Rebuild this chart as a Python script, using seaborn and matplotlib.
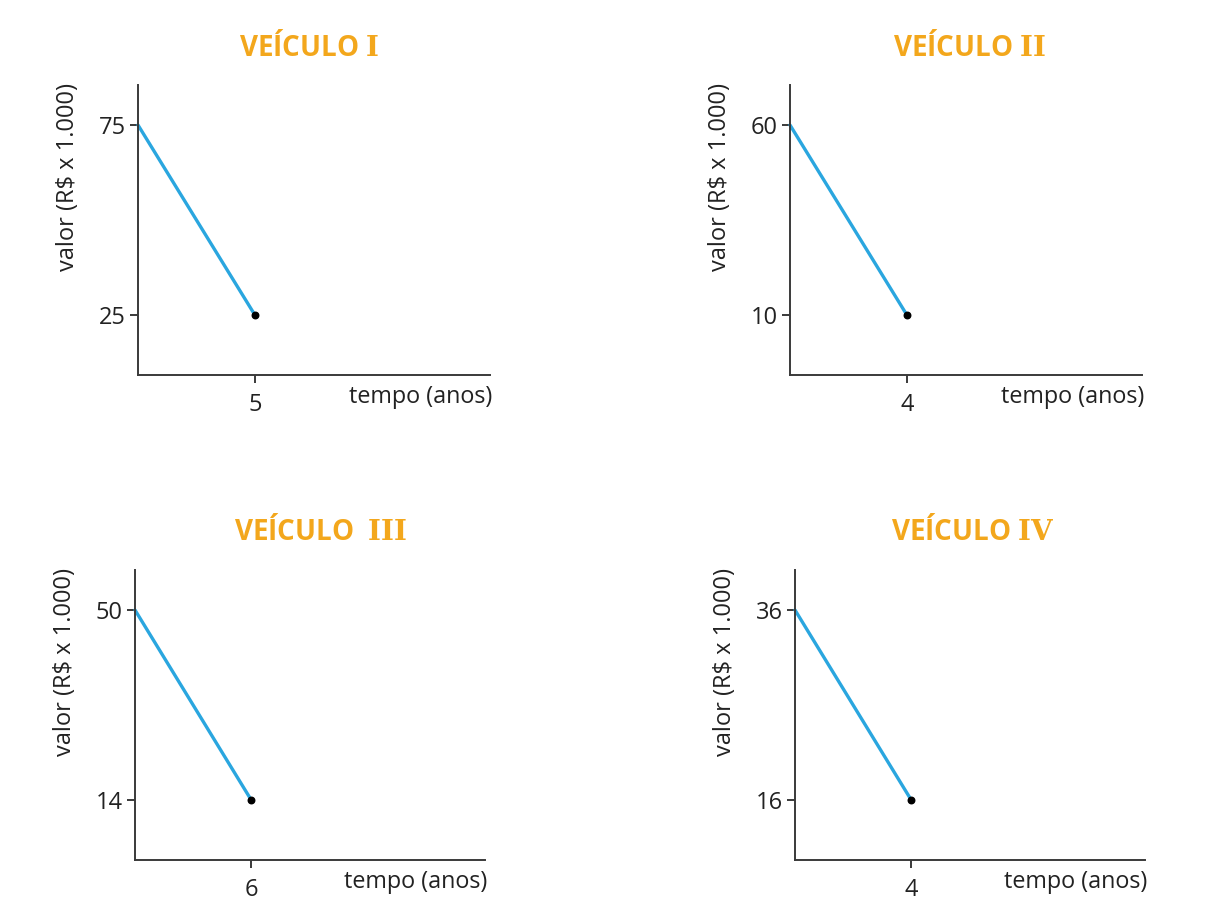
import matplotlib
matplotlib.use("Agg")
import matplotlib.pyplot as plt
import seaborn as sns
import pandas as pd

sns.set_theme(style="ticks")
plt.rcParams['font.family'] = ['Open Sans', 'DejaVu Sans']
plt.rcParams['mathtext.fontset'] = 'dejavuserif'

# Data
titles = ["VEÍCULO", "VEÍCULO", "VEÍCULO ", "VEÍCULO"]
numerals = ["I", "II", "III", "IV"]
start_values = [75, 60, 50, 36]
end_values = [25, 10, 14, 16]
end_years = [5, 4, 6, 4]

LINE_COLOR = "#2AA6DF"
TITLE_COLOR = "#F3A71C"
AXIS_COLOR = "#3a3a3a"

fig = plt.figure(figsize=(12.2, 9.22), dpi=100)
W, H = 1220, 922
# axes boxes in pixels: left, top, right, bottom
boxes = [(138, 85, 490, 375), (790, 85, 1142, 375),
         (135, 570, 485, 860), (795, 570, 1145, 860)]
title_x = [309, 969, 321, 973]

for i in range(4):
    l, t, r, b = boxes[i]
    ax = fig.add_axes([l / W, 1 - b / H, (r - l) / W, (b - t) / H])
    df = pd.DataFrame({"tempo": [0, end_years[i]],
                       "valor": [start_values[i], end_values[i]]})
    sns.lineplot(data=df, x="tempo", y="valor", ax=ax, color=LINE_COLOR,
                 linewidth=2.4, clip_on=False)
    ax.scatter([end_years[i]], [end_values[i]], color="black", s=22, zorder=5,
               clip_on=False)
    # y limits: top value at 0.862, bottom value at 0.207 of axis height
    v_lo, v_hi = end_values[i], start_values[i]
    rng = (v_hi - v_lo) / (0.862 - 0.207)
    lo = v_lo - 0.207 * rng
    ax.set_ylim(lo, lo + rng)
    ax.set_xlim(0, end_years[i] / 0.332)
    ax.set_xticks([end_years[i]])
    ax.set_yticks([v_lo, v_hi])
    ax.set_xticklabels([str(end_years[i])])
    ax.set_yticklabels([str(v_lo), str(v_hi)])
    ax.tick_params(axis="both", labelsize=17, length=6, width=1.4,
                   color=AXIS_COLOR, labelcolor="#222222", pad=3)
    ax.tick_params(axis="x", pad=7)
    for s in ["top", "right"]:
        ax.spines[s].set_visible(False)
    for s in ["left", "bottom"]:
        ax.spines[s].set_color(AXIS_COLOR)
        ax.spines[s].set_linewidth(1.4)
    ax.set_xlabel("")
    ax.set_ylabel("")
    # axis labels
    fig.text((r + 2) / W, 1 - (b + 22) / H, "tempo (anos)", ha="right",
             va="center", fontsize=16.8, color="#222222")
    fig.text((l - 70) / W, 1 - (t + 92) / H, "valor (R$ x 1.000)",
             rotation=90, ha="center", va="center", fontsize=17,
             color="#222222")
    # title
    fig.text(title_x[i] / W, 1 - (t - 38) / H,
             titles[i] + r" $\mathbf{" + numerals[i] + "}$",
             ha="center", va="center", fontsize=20, fontweight="bold",
             color=TITLE_COLOR)

fig.savefig("out.png", dpi=100, facecolor="white")
